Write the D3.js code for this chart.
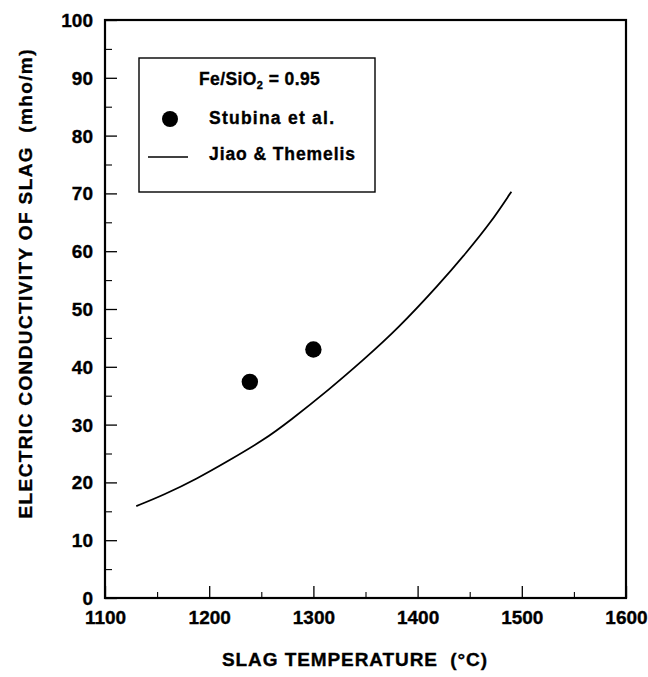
<!DOCTYPE html>
<html>
<head>
<meta charset="utf-8">
<script src="https://cdn.jsdelivr.net/npm/d3@7"></script>
<style>
  html, body { margin: 0; padding: 0; background: #fff; }
  svg { display: block; }
  text { font-family: "Liberation Sans", Arial, Helvetica, sans-serif; font-weight: bold; fill: #000; stroke: #000; stroke-width: 0.35px; white-space: pre; }
</style>
</head>
<body>
<svg id="chart" width="648" height="677"></svg>
<script>
// ---- data ----
const xTicks = [1100, 1200, 1300, 1400, 1500, 1600];
const yTicks = [0, 10, 20, 30, 40, 50, 60, 70, 80, 90, 100];
const xMinorTicks = [1150, 1250, 1350, 1450, 1550];
const yMinorTicks = [5, 15, 25, 35, 45, 55, 65, 75, 85, 95];

// Jiao & Themelis model curve
const modelTemp = [1130, 1156, 1188, 1220, 1252, 1277, 1316, 1348, 1380, 1421, 1447, 1470, 1490];
const modelCond = [15.9, 17.8, 20.6, 23.9, 27.3, 30.6, 36.2, 41.2, 46.4, 54.3, 59.8, 64.9, 70.3];

// Stubina et al. measurements
const stubinaTemp = [1239, 1300];
const stubinaCond = [37.4, 43.0];

const xLabel = "SLAG TEMPERATURE  (\u00B0C)";
const yLabel = "ELECTRIC CONDUCTIVITY OF SLAG  (mho/m)";
const legendTitle = ["Fe/SiO", "2", " = 0.95"];
const legendNames = ["Stubina et al.", "Jiao & Themelis"];

// ---- layout ----
const svg = d3.select("#chart");
const L = 105, R = 626, T = 20, B = 598;
const x = d3.scaleLinear().domain([1100, 1600]).range([L, R]);
const y = d3.scaleLinear().domain([0, 100]).range([B, T]);

// frame
svg.append("rect").attr("x", L).attr("y", T).attr("width", R - L).attr("height", B - T)
  .attr("fill", "none").attr("stroke", "#000").attr("stroke-width", 2.2);

// y axis (ticks pointing inward)
const yAxis = d3.axisLeft(y).tickValues(yTicks).tickSize(-12).tickPadding(12).tickFormat(d3.format("d"));
const gy = svg.append("g").attr("transform", `translate(${L},0)`).call(yAxis);
gy.select(".domain").remove();
gy.selectAll(".tick line").attr("stroke", "#000").attr("stroke-width", 1.3);
gy.selectAll(".tick text").attr("font-size", 19).attr("font-family", null)
  .attr("fill", "#000").attr("dy", "0.34em");
const gym = svg.append("g").attr("transform", `translate(${L},0)`)
  .call(d3.axisLeft(y).tickValues(yMinorTicks).tickSize(-7).tickFormat(""));
gym.select(".domain").remove();
gym.selectAll(".tick line").attr("stroke", "#000").attr("stroke-width", 1.1);

// x axis
const xAxis = d3.axisBottom(x).tickValues(xTicks).tickSize(-12).tickPadding(13).tickFormat(d3.format("d"));
const gx = svg.append("g").attr("transform", `translate(0,${B})`).call(xAxis);
gx.select(".domain").remove();
gx.selectAll(".tick line").attr("stroke", "#000").attr("stroke-width", 1.3);
gx.selectAll(".tick text").attr("font-size", 19).attr("font-family", null).attr("fill", "#000");
const gxm = svg.append("g").attr("transform", `translate(0,${B})`)
  .call(d3.axisBottom(x).tickValues(xMinorTicks).tickSize(-6).tickFormat(""));
gxm.select(".domain").remove();
gxm.selectAll(".tick line").attr("stroke", "#000").attr("stroke-width", 1.1);

// axis titles
svg.append("text").attr("x", 222).attr("y", 666).attr("font-size", 19)
  .attr("textLength", 265).attr("lengthAdjust", "spacing").text(xLabel);
svg.append("text").attr("transform", "translate(32,284) rotate(-90)").attr("text-anchor", "middle")
  .attr("font-size", 19).attr("textLength", 469).attr("lengthAdjust", "spacing").text(yLabel);

// model curve
const modelData = modelTemp.map((t, i) => [t, modelCond[i]]);
svg.append("path").datum(modelData)
  .attr("d", d3.line().x(d => x(d[0])).y(d => y(d[1])).curve(d3.curveBasis))
  .attr("fill", "none").attr("stroke", "#000").attr("stroke-width", 1.8);

// Stubina points
const stubData = stubinaTemp.map((t, i) => [t, stubinaCond[i]]);
svg.selectAll("circle.pt").data(stubData).enter().append("circle").attr("class", "pt")
  .attr("cx", d => x(d[0])).attr("cy", d => y(d[1])).attr("r", 8.2).attr("fill", "#000");

// legend
svg.append("rect").attr("x", 139).attr("y", 58).attr("width", 236).attr("height", 134)
  .attr("fill", "#fff").attr("stroke", "#000").attr("stroke-width", 1.4);
const lt = svg.append("text").attr("x", 199).attr("y", 85).attr("font-size", 17.5).attr("letter-spacing", 0.4);
lt.append("tspan").text(legendTitle[0]);
lt.append("tspan").attr("font-size", 11).attr("dy", 4).text(legendTitle[1]);
lt.append("tspan").attr("dy", -4).text(legendTitle[2]);

svg.append("circle").attr("cx", 170).attr("cy", 119).attr("r", 8).attr("fill", "#000");
svg.append("text").attr("x", 209).attr("y", 124).attr("font-size", 17.5)
  .attr("textLength", 125).attr("lengthAdjust", "spacing").text(legendNames[0]);
svg.append("line").attr("x1", 148).attr("x2", 188).attr("y1", 157).attr("y2", 157)
  .attr("stroke", "#000").attr("stroke-width", 1.4);
svg.append("text").attr("x", 209).attr("y", 160).attr("font-size", 17.5)
  .attr("textLength", 146).attr("lengthAdjust", "spacing").text(legendNames[1]);
</script>
</body>
</html>
